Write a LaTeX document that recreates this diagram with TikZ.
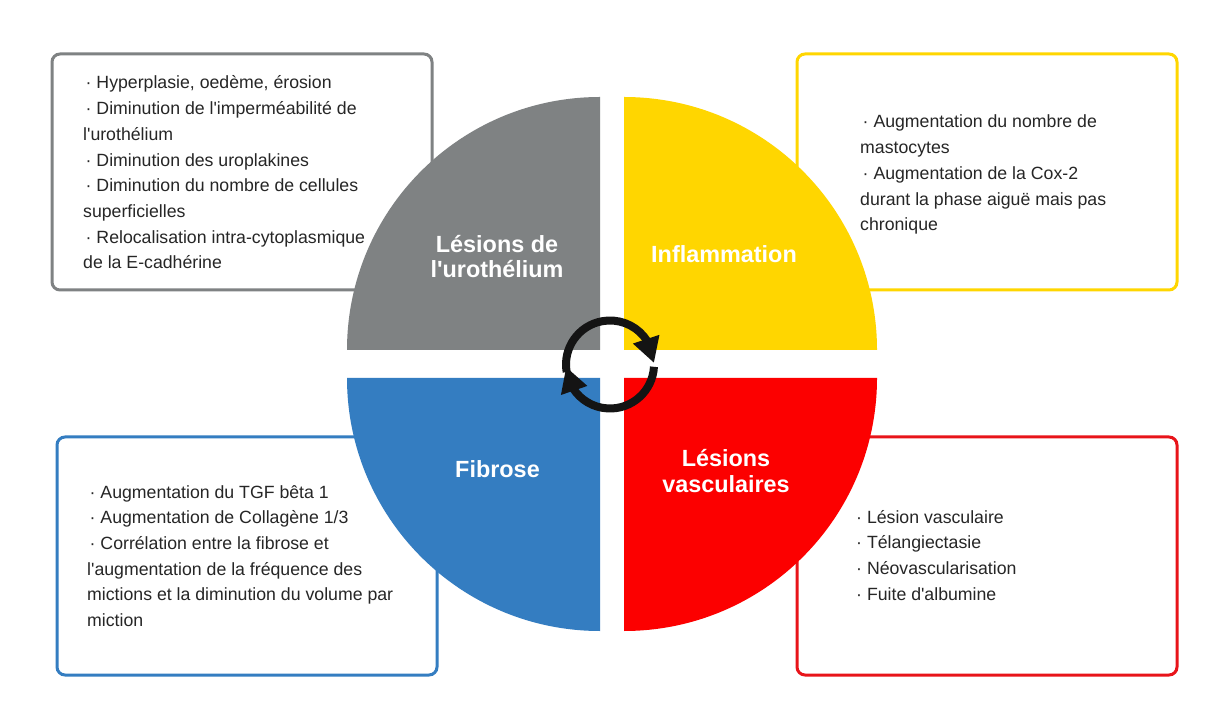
\documentclass[tikz,border=0pt]{standalone}
\usepackage{fontspec}
\setmainfont{Liberation Sans}[Ligatures=TeXOff]
\usetikzlibrary{arrows.meta,bending}
\definecolor{qgray}{RGB}{127,130,131}
\definecolor{qyellow}{RGB}{255,214,0}
\definecolor{qblue}{RGB}{52,125,193}
\definecolor{qred}{RGB}{252,0,0}
\definecolor{bred}{RGB}{232,20,26}
\definecolor{txt}{RGB}{38,38,38}
\newcommand{\bul}{\hspace*{2.5pt}·\ }
\begin{document}
\begin{tikzpicture}[x=1pt,y=1pt,
  infobox/.style={rounded corners=8pt, line width=3pt, fill=white},
  body/.style={anchor=base west, align=left, inner sep=0pt, text=txt, font=\fontsize{17.7}{25.7}\selectfont},
  title/.style={anchor=base, align=center, inner sep=0pt, text=white, font=\fontsize{23.4}{25.5}\selectfont\bfseries},
  cyc/.style={line width=8pt, draw=black!92, -{Triangle[length=25pt,width=26pt,flex]}}
]
\useasboundingbox (0,0) rectangle (1209,715);
\fill[white] (0,0) rectangle (1209,715);

% boxes
\draw[infobox, draw=qgray]   (52,425) rectangle (432,661);
\draw[infobox, draw=qyellow] (797,425) rectangle (1177,661);
\draw[infobox, draw=qblue]   (57,40) rectangle (437,278);
\draw[infobox, draw=bred]    (797,40) rectangle (1177,278);

% box texts (anchor = baseline of the last line)
\node[body] (tgray) at (83,446.1) {\bul Hyperplasie, oedème, érosion\\
\bul Diminution de l'imperméabilité de\\
l'urothélium\\
\bul Diminution des uroplakines\\
\bul Diminution du nombre de cellules\\
superficielles\\
\bul Relocalisation intra-cytoplasmique\\
de la E-cadhérine};
\node[body] (tyellow) at (860,484.2) {\bul Augmentation du nombre de\\
mastocytes\\
\bul Augmentation de la Cox-2\\
durant la phase aiguë mais pas\\
chronique};
\node[body] (tblue) at (87,88.5) {\bul Augmentation du TGF bêta 1\\
\bul Augmentation de Collagène 1/3\\
\bul Corrélation entre la fibrose et\\
l'augmentation de la fréquence des\\
mictions et la diminution du volume par\\
miction};
\node[body] (tred) at (856,114.9) {· Lésion vasculaire\\
· Télangiectasie\\
· Néovascularisation\\
· Fuite d'albumine};

% quadrants
\fill[qgray]   (600,365) -- (347,365) arc[start angle=180, end angle=90, radius=253] -- cycle;
\fill[qyellow] (624,365) -- (624,618) arc[start angle=90, end angle=0, radius=253] -- cycle;
\fill[qblue]   (600,337) -- (347,337) arc[start angle=180, end angle=270, radius=253] -- cycle;
\fill[qred]    (624,337) -- (877,337) arc[start angle=0, end angle=-90, radius=253] -- cycle;

% titles
\node[title] (lgray) at (497,437) {Lésions de\\l'urothélium};
\node[title] (lyellow) at (724,452) {Inflammation};
\node[title] (lblue) at (497.5,237) {Fibrose};
\node[title] (lred) at (726,222.5) {Lésions\\vasculaires};

% cycle arrows
\coordinate (c) at (610,350.5);
\draw[cyc] (c) ++(190:44) arc[start angle=190, end angle=2, radius=44];
\draw[cyc] (c) ++(-3:44) arc[start angle=-3, end angle=-177, radius=44];
\end{tikzpicture}
\end{document}
